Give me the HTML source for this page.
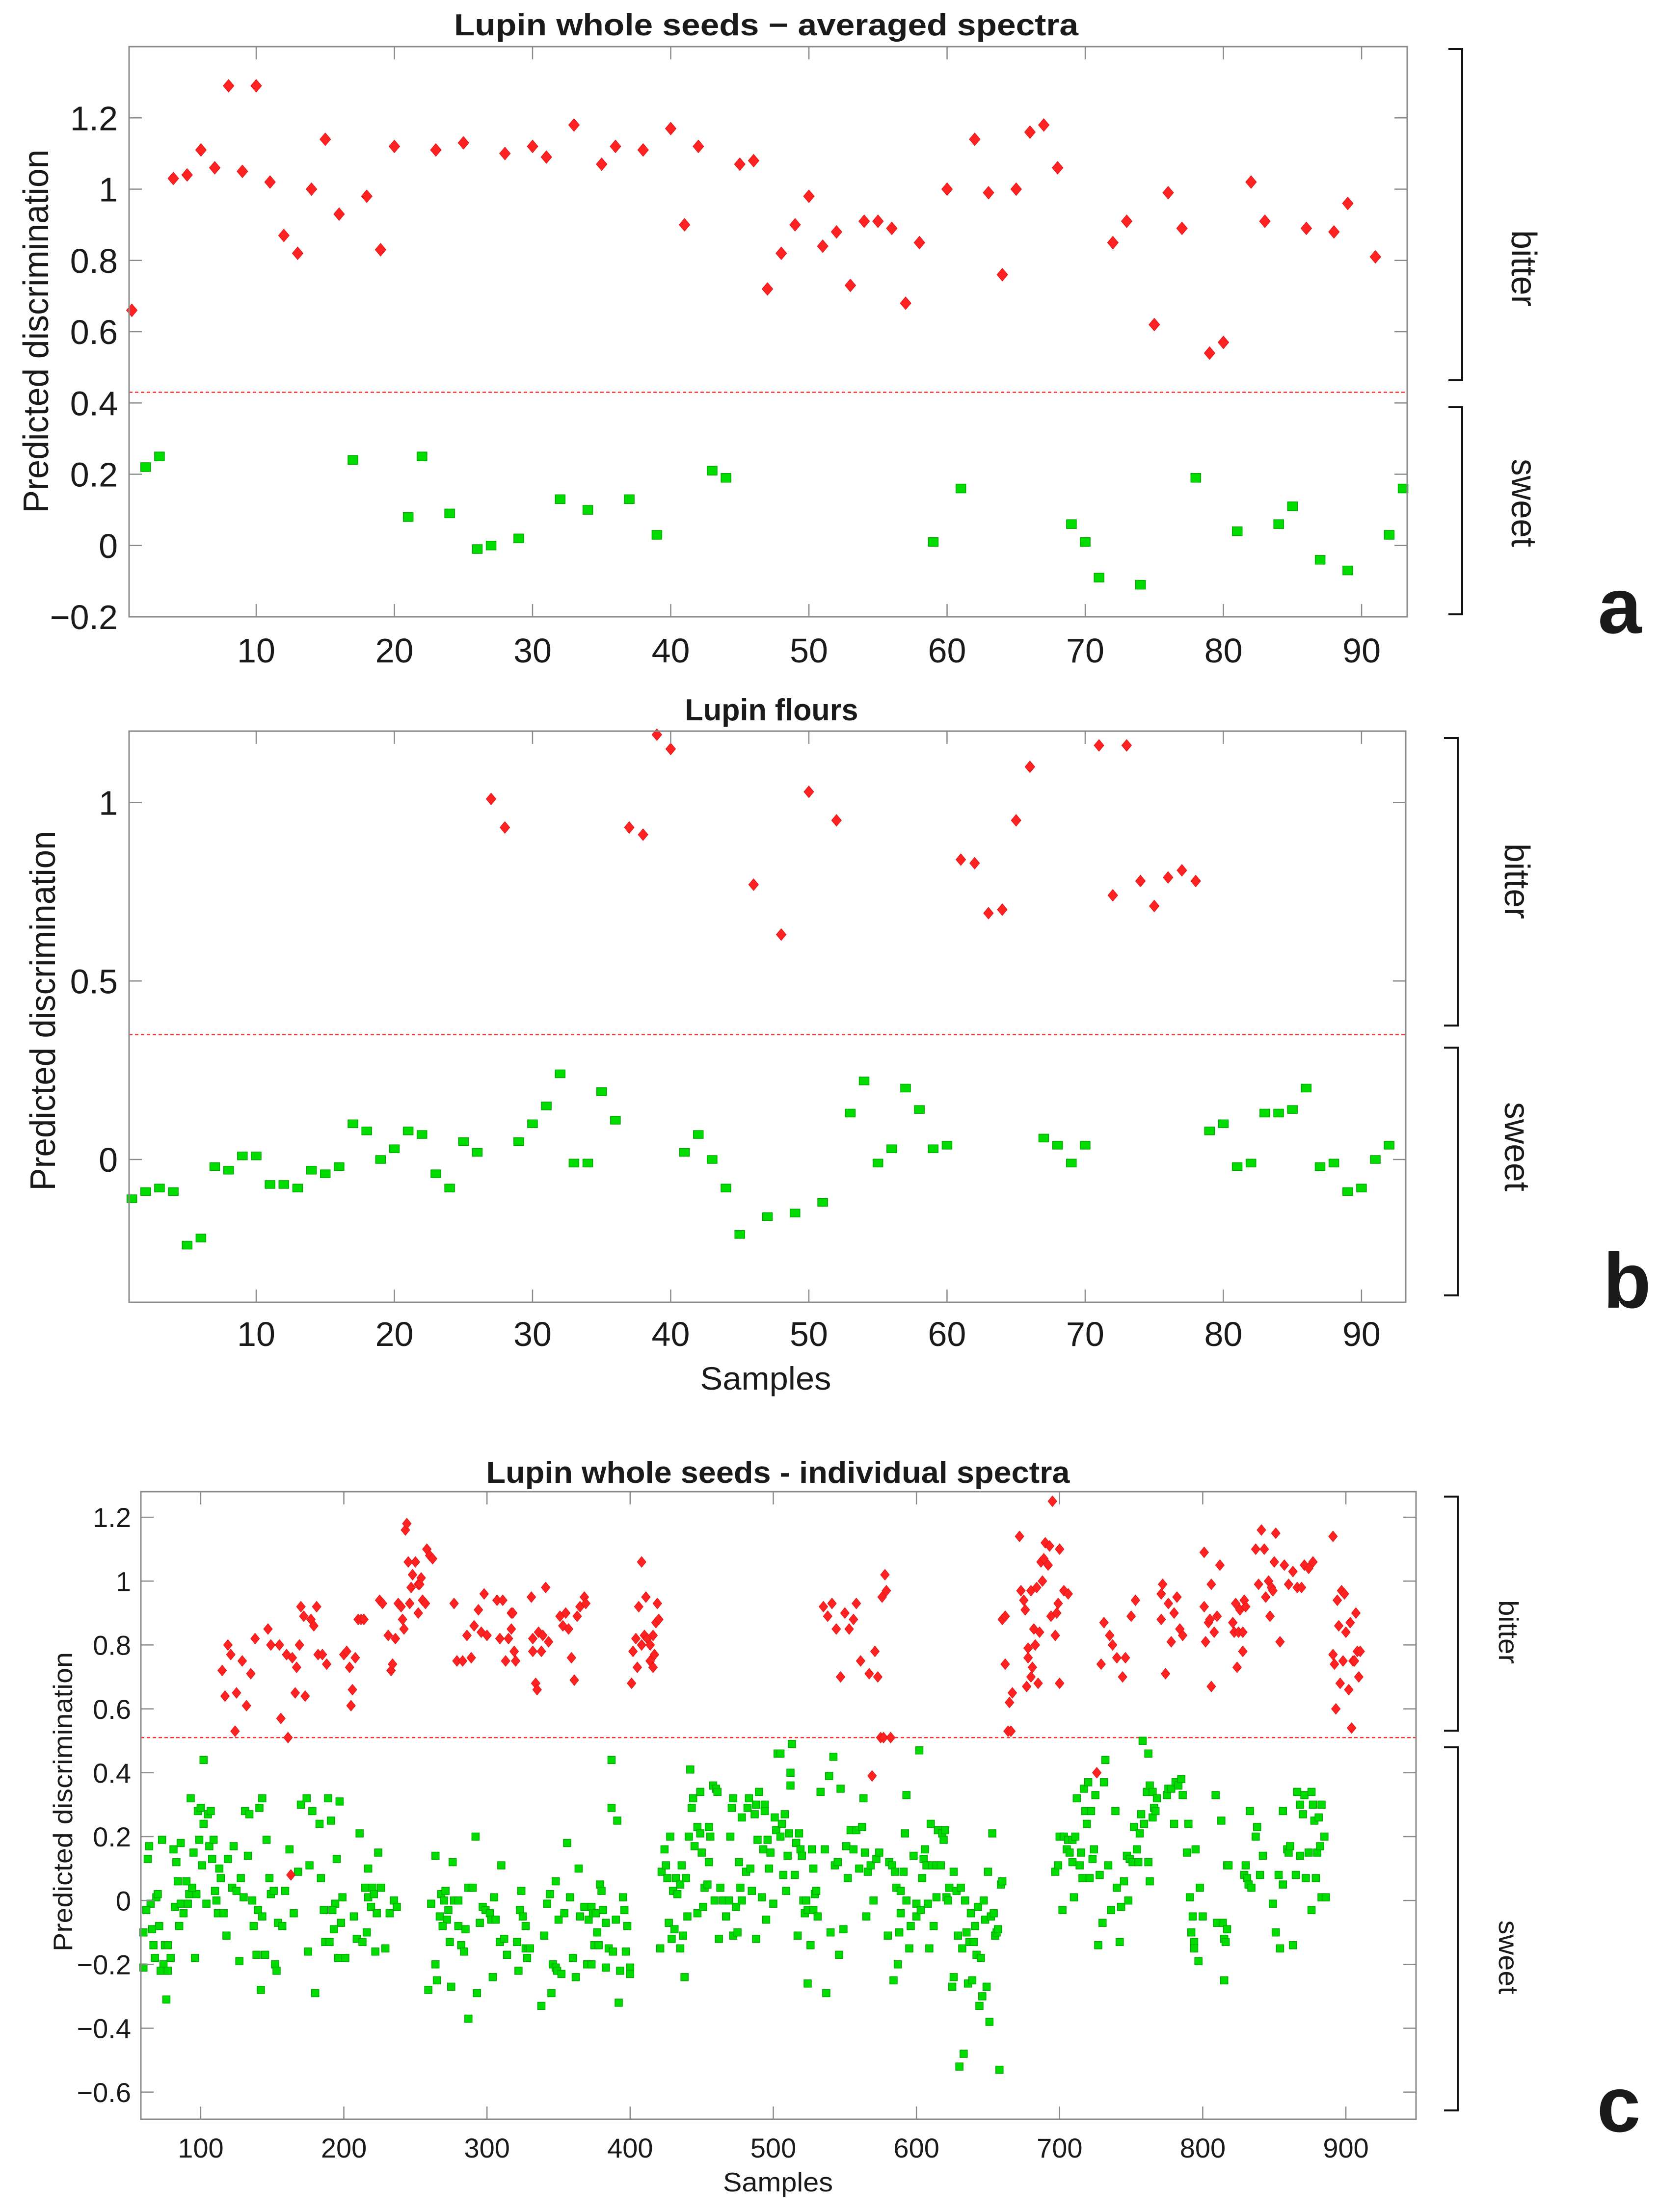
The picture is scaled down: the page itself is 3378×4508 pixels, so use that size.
<!DOCTYPE html>
<html><head><meta charset="utf-8"><title>Lupin discrimination</title>
<style>
html,body{margin:0;padding:0;background:#fff;}
svg{display:block;}
text{font-family:"Liberation Sans",Arial,sans-serif;fill:#1a1a1a;}
</style></head>
<body>
<svg id="fig" width="3378" height="4508" viewBox="0 0 3378 4508" xmlns="http://www.w3.org/2000/svg">
<rect x="0" y="0" width="3378" height="4508" fill="#fff"/>
</svg>
<script>
// ---------- Panel a data ----------
const aRedX=[1,4,5,6,7,8,9,10,11,12,13,14,15,16,18,19,20,23,25,28,30,31,33,35,36,38,40,41,42,45,46,47,48,49,50,51,52,53,54,55,56,57,58,60,62,63,64,65,66,67,68,72,73,75,76,77,79,80,82,83,86,88,89,91];
const aRedY=[0.66,1.03,1.04,1.11,1.06,1.29,1.05,1.29,1.02,0.87,0.82,1.0,1.14,0.93,0.98,0.83,1.12,1.11,1.13,1.10,1.12,1.09,1.18,1.07,1.12,1.11,1.17,0.90,1.12,1.07,1.08,0.72,0.82,0.90,0.98,0.84,0.88,0.73,0.91,0.91,0.89,0.68,0.85,1.0,1.14,0.99,0.76,1.0,1.16,1.18,1.06,0.85,0.91,0.62,0.99,0.89,0.54,0.57,1.02,0.91,0.89,0.88,0.96,0.81];
const aGreenX=[2,3,17,21,22,24,26,27,29,32,34,37,39,43,44,59,61,69,70,71,74,78,81,84,85,87,89,92,93];
const aGreenY=[0.22,0.25,0.24,0.08,0.25,0.09,-0.01,0.0,0.02,0.13,0.10,0.13,0.03,0.21,0.19,0.01,0.16,0.06,0.01,-0.09,-0.11,0.19,0.04,0.06,0.11,-0.04,-0.07,0.03,0.16];
const aYTicks=[-0.2,0,0.2,0.4,0.6,0.8,1,1.2];
const aYTickLabels=["\u22120.2","0","0.2","0.4","0.6","0.8","1","1.2"];
const abXTicks=[10,20,30,40,50,60,70,80,90];
const aThreshold=[0.43];

// ---------- Panel b data ----------
const bRedX=[27,28,37,38,39,40,46,48,50,52,61,62,63,64,65,66,71,72,73,74,75,76,77,78];
const bRedY=[1.01,0.93,0.93,0.91,1.19,1.15,0.77,0.63,1.03,0.95,0.84,0.83,0.69,0.70,0.95,1.10,1.16,0.74,1.16,0.78,0.71,0.79,0.81,0.78];
const bGreenX=[1,2,3,4,5,6,7,8,9,10,11,12,13,14,15,16,17,18,19,20,21,22,23,24,25,26,29,30,31,32,33,34,35,36,41,42,43,44,45,47,49,51,53,54,55,56,57,58,59,60,67,68,69,70,79,80,81,82,83,84,85,86,87,88,89,90,91,92];
const bGreenY=[-0.11,-0.09,-0.08,-0.09,-0.24,-0.22,-0.02,-0.03,0.01,0.01,-0.07,-0.07,-0.08,-0.03,-0.04,-0.02,0.10,0.08,0.0,0.03,0.08,0.07,-0.04,-0.08,0.05,0.02,0.05,0.10,0.15,0.24,-0.01,-0.01,0.19,0.11,0.02,0.07,0.0,-0.08,-0.21,-0.16,-0.15,-0.12,0.13,0.22,-0.01,0.03,0.20,0.14,0.03,0.04,0.06,0.04,-0.01,0.04,0.08,0.10,-0.02,-0.01,0.13,0.13,0.14,0.20,-0.02,-0.01,-0.09,-0.08,0.0,0.04];
const bYTicks=[0,0.5,1];
const bYTickLabels=["0","0.5","1"];
const bThreshold=[0.35];

// ---------- Panel c data (sample, predicted value) ----------
const cRedPts=[[115,.72],[117,.64],[119,.80],[121,.77],[124,.53],[125,.65],[129,.75],[132,.61],[135,.71],[138,.82],[147,.85],[149,.80],[155,.80],[156,.57],[160,.77],[161,.51],[164,.76],[166,.65],[167,.73],[169,.80],[170,.92],[172,.89],[173,.64],[177,.88],[179,.86],[181,.92],[182,.77],[185,.77],[188,.74],[163,.08],[200,.77],[202,.78],[204,.73],[205,.61],[206,.66],[208,.76],[210,.88],[212,.88],[214,.88],[225,.94],[227,.93],[231,.83],[233,.72],[234,.74],[236,.82],[238,.93],[240,.92],[241,.88],[242,.85],[243,1.16],[244,1.18],[245,1.06],[246,.93],[247,.98],[248,1.02],[250,1.06],[252,.99],[252,.90],[253,.99],[254,1.01],[255,.94],[257,.93],[258,1.10],[260,1.08],[262,1.07],[277,.93],[279,.75],[283,.75],[286,.83],[289,.76],[291,.86],[294,.91],[296,.84],[298,.96],[300,.83],[307,.94],[309,.82],[311,.94],[313,.75],[315,.82],[317,.90],[317,.85],[318,.90],[319,.78],[320,.75],[331,.95],[332,.82],[332,.78],[334,.68],[335,.66],[336,.84],[338,.78],[339,.83],[341,.98],[343,.81],[351,.89],[353,.86],[355,.90],[357,.85],[359,.76],[361,.69],[363,.89],[365,.92],[368,.95],[369,.93],[401,.68],[402,.78],[404,.82],[405,.73],[406,.92],[408,.80],[408,1.06],[410,.83],[411,.95],[412,.82],[414,.80],[414,.75],[416,.73],[417,.77],[418,.87],[419,.93],[420,.88],[416,.83],
[535,.92],[538,.89],[541,.93],[544,.85],[547,.70],[550,.90],[553,.85],[556,.88],[558,.93],[561,.75],[567,.71],[571,.78],[573,.70],[576,.95],[578,1.02],[579,.97],[575,.51],[577,.51],[582,.51],[569,.39],[660,.88],[662,.89],[662,.74],[665,.62],[667,.65],[664,.53],[666,.53],[672,1.14],[673,.97],[675,.94],[676,.91],[678,.79],[678,.76],[680,.70],[677,.67],[681,.73],[680,.97],[682,.85],[683,.80],[684,.98],[686,.84],[685,.68],[688,1.0],[687,1.06],[689,1.07],[690,1.12],[692,1.05],[693,1.11],[694,.89],[695,1.25],[697,.83],[698,.90],[699,.93],[700,.68],[700,1.10],[703,.97],[706,.96],[726,.40],[729,.74],[731,.87],[735,.83],[737,.80],[740,.76],[744,.70],[746,.76],[750,.89],[753,.94],[771,.88],[772,.99],[771,.96],[774,.71],[776,.93],[778,.81],[780,.90],[782,.95],[784,.85],[786,.83],[801,1.09],[801,.92],[802,.81],[804,.87],[805,.88],[806,.67],[806,.99],[808,.84],[810,.89],[812,1.05],[821,.87],[822,.84],[823,.93],[824,.73],[825,.84],[826,.91],[828,.78],[828,.84],[829,.94],[830,.92],[837,1.10],[839,.99],[841,1.16],[843,1.10],[844,.95],[846,1.0],[847,.89],[848,.98],[849,.97],[850,1.06],[851,1.15],[854,.81],[857,1.05],[860,.99],[863,1.03],[866,.98],[869,.98],[871,1.05],[874,1.04],[877,1.06],[891,1.14],[891,.77],[892,.74],[893,.60],[894,.94],[895,.86],[896,.68],[897,.97],[898,.75],[899,.96],[900,.84],[902,.66],[903,.87],[904,.54],[905,.75],[906,.75],[907,.90],[908,.78],[909,.70],[910,.78]];
const cGreenPts=[[102,.44],[93,.32],[98,.28],[100,.29],[105,.27],[107,.28],[102,.24],[99,.19],[95,.15],[101,.11],[106,.17],[109,.19],[108,.13],[113,.10],[114,.07],[110,.03],[111,0],[104,-.01],[112,-.04],[116,-.04],[118,-.11],[96,-.18],[85,-.08],[82,-.02],[86,-.01],[88,-.04],[91,-.01],[92,.02],[97,.02],[94,.04],[90,.06],[84,.06],[83,.12],[81,.16],[86,.18],[73,.19],[64,.17],[63,.13],[65,-.01],[62,-.03],[69,.01],[70,.02],[71,-.08],[66,-.09],[60,-.10],[67,-.14],[75,-.14],[77,-.14],[79,-.18],[68,-.18],[74,-.20],[60,-.21],[72,-.22],[77,-.22],[76,-.31],
[119,.13],[123,.17],[122,.04],[125,.03],[128,.07],[130,.01],[133,.14],[131,.28],[134,.27],[141,.29],[143,.32],[146,.19],[136,0],[140,-.03],[143,-.05],[137,-.08],[127,-.19],[139,-.17],[145,-.17],[142,-.28],[148,.07],[149,.02],[151,.03],[154,-.07],[157,-.08],[159,.03],[162,.16],[165,-.04],[152,-.20],[153,-.22],[168,.09],[170,.30],[174,.32],[178,.28],[183,.24],[176,.11],[184,.07],[175,-.16],[180,-.29],[189,.32],[191,.25],[197,.31],[195,.13],[194,-.01],[186,-.03],[192,-.03],[199,.01],[198,-.07],[193,-.09],[187,-.13],[190,-.13],[196,-.18],[201,-.18],[207,-.05],[209,-.12],[213,-.13],[216,-.10],[211,.21],[217,.10],[215,.04],[220,.04],[226,.04],[217,.01],[221,.02],[219,-.02],[223,-.04],[224,.15],[232,-.04],[235,0],[237,-.02],[229,-.15],[222,-.16],
[259,-.28],[264,-.20],[265,-.25],[264,.14],[261,-.01],[268,.02],[271,.03],[270,0],[277,0],[280,0],[273,-.03],[267,-.05],[272,-.06],[269,-.08],[280,-.08],[285,-.09],[274,-.13],[282,-.14],[284,-.16],[275,-.27],[276,.12],[287,.04],[290,.04],[292,.20],[293,-.29],[287,-.37],[297,-.02],[299,-.03],[302,-.04],[303,-.06],[295,-.07],[306,-.06],[305,.01],[310,.11],[309,-.13],[312,-.12],[314,-.17],[304,-.24],[321,-.13],[322,-.22],[323,-.03],[325,-.05],[327,-.08],[324,.03],[327,-.15],[329,-.15],[330,-.15],[328,-.18],[338,-.33],[340,-.11],[342,-.01],[344,.02],[348,.06],[345,-.29],[346,-.20],[348,-.21],[349,-.22],[352,-.23],[350,-.06],[354,-.04],[356,.18],[358,.01],[360,-.18],[362,-.24],[364,.10],[365,-.05],[368,-.02],[371,-.06],[373,-.02],[374,-.04],[376,-.04],[377,-.10],[379,.05],[380,.03],[381,-.03],[383,-.07],[375,-.14],[378,-.14],[385,-.15],[388,-.16],[390,-.06],[383,-.21],[370,-.20],[373,-.20],[387,.29],[387,.44],[391,.25],[392,-.32],[393,-.22],[395,.01],[396,-.03],[398,-.08],[397,-.16],[400,-.21],[400,-.23],
[421,-.15],[422,.09],[424,.16],[425,.11],[426,.07],[427,-.07],[428,.20],[429,-.12],[430,.03],[431,-.09],[432,.07],[433,.02],[435,.05],[435,-.15],[436,.11],[437,-.11],[438,-.24],[439,.07],[440,-.05],[441,.20],[442,.41],[443,.29],[444,.32],[445,.17],[447,.23],[447,-.04],[449,.34],[449,.21],[450,.15],[451,-.02],[452,.04],[454,.05],[455,.23],[455,.12],[456,.20],[458,.36],[459,0],[460,.35],[461,.34],[462,-.12],[463,.04],[465,0],[467,-.05],[469,0],[470,.20],[471,.29],[472,.32],[472,-.11],[474,-.02],[475,-.10],[476,.12],[477,.04],[478,.26],[478,0],[481,.09],[482,.29],[483,.32],[484,.10],[485,.03],[487,.27],[488,.30],[488,-.12],[490,.34],[489,.19],[492,.01],[493,.16],[494,.30],[494,.28],[495,-.06],[496,.19],[497,.10],[498,.15],[500,-.01],[501,.26],[502,.22],[503,.46],
[505,.46],[513,.49],[512,.40],[512,.36],[508,.27],[506,.24],[505,.20],[511,.21],[516,.18],[518,.21],[519,.16],[510,.14],[520,.14],[507,.08],[515,.08],[509,.03],[521,0],[523,0],[522,-.04],[524,-.03],[528,-.03],[529,.02],[530,.03],[531,-.05],[517,-.11],[526,-.14],[524,-.26],[528,.10],[527,.16],[533,.34],[539,.39],[542,.45],[547,.35],[536,.16],[543,.11],[545,.12],[540,-.10],[537,-.29],[546,-.17],[549,-.09],[552,.07],[551,.17],[554,.22],[556,.16],[558,.22],[560,.10],[562,.23],[564,.15],[563,.32],[566,.09],[568,.11],[570,0],[572,.13],[574,.15],[565,-.05],
[581,.12],[583,.11],[585,.09],[586,.04],[589,.03],[591,.09],[592,.21],[593,0],[593,.33],[589,-.04],[588,-.10],[580,-.11],[587,-.20],[584,-.25],[595,-.15],[596,-.08],[598,.14],[600,-.01],[600,-.05],[603,-.03],[604,.07],[605,.13],[606,.16],[607,.11],[608,-.01],[610,.24],[611,.11],[612,-.08],[609,-.15],[614,.01],[614,.11],[615,.22],[617,.11],[618,.21],[619,.19],[620,.22],[621,.01],[622,0],[623,.04],[625,-.27],[626,-.24],[626,.09],[628,.03],[629,-.11],[631,.04],[632,-.15],[633,-.48],[630,-.52],[634,0],[635,-.10],[636,-.26],[637,-.13],[638,-.04],[639,-.25],[640,-.13],[641,-.08],[642,-.17],[643,-.02],[644,-.33],[645,-.18],[646,-.30],[647,0],[648,-.06],[649,-.27],[650,.09],[651,-.38],[652,-.05],[653,.21],[654,-.04],[655,-.11],[656,-.10],[657,-.09],[658,-.53],[659,.05],[660,.06],[602,.47],
[697,.09],[699,.11],[700,.20],[702,-.03],[703,.20],[705,.16],[706,.19],[707,.15],[709,.19],[709,.12],[710,.01],[711,.20],[712,.32],[714,.11],[715,.15],[716,.07],[717,.35],[718,.28],[719,.24],[720,.37],[721,.07],[722,.28],[724,.16],[725,.33],[723,.13],[727,-.14],[728,.08],[730,-.07],[731,.37],[732,.44],[734,.11],[736,-.03],[739,.28],[740,.04],[742,-.13],[743,-.02],[745,.06],[748,0],[747,.14],[749,.13],[751,.12],[752,.23],[754,.16],[755,.12],[756,.21],[757,.27],[758,.50],[759,.24],[761,.34],[762,.46],[762,.12],[763,.06],[763,.36],[765,.34],[765,.26],[766,.29],[767,.28],[768,.32],[775,.33],[776,.35],[778,.35],[780,.24],[781,.37],[783,.36],[785,.38],[786,.33],[789,.15],[790,.24],[791,.01],[792,-.10],[793,-.05],[794,-.13],[794,-.15],[795,.16],[797,-.19],[798,.04],[800,-.05],
[809,.33],[810,-.07],[813,.25],[814,-.07],[815,-.25],[815,-.12],[816,-.13],[817,-.09],[817,.11],[818,.11],[829,.08],[830,.11],[831,.07],[832,.05],[834,.04],[833,.28],[837,.20],[838,.23],[840,.08],[842,.14],[849,-.01],[851,-.10],[853,.08],[854,-.15],[856,.05],[856,.28],[859,.16],[860,.15],[861,.17],[863,-.14],[865,.08],[866,.34],[868,.30],[868,.14],[870,.27],[871,.33],[872,.07],[874,.15],[876,-.03],[876,.34],[877,.30],[878,.25],[879,.07],[880,.15],[881,.26],[882,.17],[883,.30],[883,.01],[885,.20],[886,.01]];
const cYTicks=[-0.6,-0.4,-0.2,0,0.2,0.4,0.6,0.8,1,1.2];
const cYTickLabels=["\u22120.6","\u22120.4","\u22120.2","0","0.2","0.4","0.6","0.8","1","1.2"];
const cXTicks=[100,200,300,400,500,600,700,800,900];
const cThreshold=[0.51];

const SVGNS="http://www.w3.org/2000/svg";
const fig=document.getElementById('fig');
function mk(tag,attrs,parent){const e=document.createElementNS(SVGNS,tag);for(const k in attrs)e.setAttribute(k,attrs[k]);(parent||fig).appendChild(e);return e;}
function lin(d0,d1,r0,r1){return v=>r0+(v-d0)/(d1-d0)*(r1-r0);}

function panel(cfg){
  const g=mk('g',{});
  
  
  const sx=lin(cfg.xd[0],cfg.xd[1],cfg.L,cfg.R);
  const sy=lin(cfg.yd[0],cfg.yd[1],cfg.B,cfg.T);
  const th=mk('line',{x1:cfg.L,x2:cfg.R,y1:sy(cfg.thr[0]),y2:sy(cfg.thr[0]),stroke:'#ff3030','stroke-width':2.5,'stroke-dasharray':'7,5'},g);
  
  
  const gg=mk('g',{},g);
  
  
  cfg.gx.forEach((xv,i)=>{
    const yv=cfg.gy[i];
    const r=mk('rect',{x:sx(xv)-cfg.sq[0]/2,y:sy(yv)-cfg.sq[1]/2,width:cfg.sq[0],height:cfg.sq[1],fill:'#00dc00',stroke:'#00a800','stroke-width':1.5},gg);
    
    
  });
  const rg=mk('g',{},g);
  
  
  cfg.rx.forEach((xv,i)=>{
    const yv=cfg.ry[i];const cx=sx(xv),cy=sy(yv),w=cfg.dm[0],h=cfg.dm[1];
    const p=mk('path',{d:`M${cx},${cy-h}L${cx+w},${cy}L${cx},${cy+h}L${cx-w},${cy}Z`,fill:'#ff2222',stroke:'#e01010','stroke-width':1},rg);
    
    
  });
  const box=mk('rect',{x:cfg.L,y:cfg.T,width:cfg.R-cfg.L,height:cfg.B-cfg.T,fill:'none',stroke:'#8a8a8a','stroke-width':3},g);
  
  
  const tl=cfg.tick;
  cfg.xt.forEach(v=>{
    const x=sx(v);
    mk('line',{x1:x,x2:x,y1:cfg.B,y2:cfg.B-tl,stroke:'#8a8a8a','stroke-width':2.5},g);
    mk('line',{x1:x,x2:x,y1:cfg.T,y2:cfg.T+tl,stroke:'#8a8a8a','stroke-width':2.5},g);
    const t=mk('text',{x:x,y:cfg.xlabY,'font-size':cfg.tf,'text-anchor':'middle'},g);
    t.textContent=String(v);
    
    
  });
  cfg.yt.forEach((v,i)=>{
    const y=sy(v);
    mk('line',{x1:cfg.L,x2:cfg.L+tl,y1:y,y2:y,stroke:'#8a8a8a','stroke-width':2.5},g);
    mk('line',{x1:cfg.R,x2:cfg.R-tl,y1:y,y2:y,stroke:'#8a8a8a','stroke-width':2.5},g);
    const t=mk('text',{x:cfg.ylabX,y:y+cfg.tf*0.36,'font-size':cfg.tf,'text-anchor':'end'},g);
    t.textContent=cfg.ytl[i];
    
    
  });
}

panel({name:'panel-a',L:263,R:2867,T:95,B:1257,xd:[0.8,93.3],yd:[-0.2,1.4],rx:aRedX,ry:aRedY,gx:aGreenX,gy:aGreenY,
  xt:abXTicks,yt:aYTicks,ytl:aYTickLabels,thr:aThreshold,tick:26,tf:70,xlabY:1350,ylabX:240,sq:[20,18],dm:[11,13]});
panel({name:'panel-b',L:263,R:2864,T:1490,B:2654,xd:[0.8,93.2],yd:[-0.4,1.2],rx:bRedX,ry:bRedY,gx:bGreenX,gy:bGreenY,
  xt:abXTicks,yt:bYTicks,ytl:bYTickLabels,thr:bThreshold,tick:26,tf:70,xlabY:2743,ylabX:240,sq:[20,16],dm:[10,12]});
panel({name:'panel-c',L:287,R:2885,T:3040,B:4319,xd:[58.2,949],yd:[-0.685,1.28],rx:cRedPts.map(p=>p[0]),ry:cRedPts.map(p=>p[1]),gx:cGreenPts.map(p=>p[0]),gy:cGreenPts.map(p=>p[1]),
  xt:cXTicks,yt:cYTicks,ytl:cYTickLabels,thr:cThreshold,tick:26,tf:56,xlabY:4397,ylabX:267,sq:[15,15],dm:[9,11]});

function txt(s,attrs,name){const t=mk('text',attrs);t.textContent=s;return t;}
txt('Lupin whole seeds \u2212 averaged spectra',{x:1561,y:72,'font-size':62,'font-weight':'bold','text-anchor':'middle',textLength:1272,lengthAdjust:'spacingAndGlyphs'},'title-a');
txt('Lupin flours',{x:1572,y:1468,'font-size':62,'font-weight':'bold','text-anchor':'middle',textLength:353,lengthAdjust:'spacingAndGlyphs'},'title-b');
txt('Lupin whole seeds  - individual spectra',{x:1585,y:3022,'font-size':62,'font-weight':'bold','text-anchor':'middle',textLength:1189,lengthAdjust:'spacingAndGlyphs'},'title-c');
txt('Predicted discrimination',{x:0,y:0,'font-size':72,'text-anchor':'middle',transform:'translate(98,675) rotate(-90)',textLength:741,lengthAdjust:'spacingAndGlyphs'},'y-axis-title-a');
txt('Predicted discrimination',{x:0,y:0,'font-size':72,'text-anchor':'middle',transform:'translate(112,2060) rotate(-90)',textLength:733,lengthAdjust:'spacingAndGlyphs'},'y-axis-title-b');
txt('Predicted discrimination',{x:0,y:0,'font-size':55,'text-anchor':'middle',transform:'translate(147,3672) rotate(-90)',textLength:610,lengthAdjust:'spacingAndGlyphs'},'y-axis-title-c');
txt('Samples',{x:1560,y:2832,'font-size':66,'text-anchor':'middle',textLength:267,lengthAdjust:'spacingAndGlyphs'},'x-axis-title-b');
txt('Samples',{x:1585,y:4466,'font-size':55,'text-anchor':'middle',textLength:224,lengthAdjust:'spacingAndGlyphs'},'x-axis-title-c');
function cls(s,x,y,fs,len,name){txt(s,{x:0,y:0,'font-size':fs,'text-anchor':'middle',transform:`translate(${x},${y}) rotate(90)`,textLength:len,lengthAdjust:'spacingAndGlyphs'},name);}
cls('bitter',3080,547,72,156,'class-label-bitter-a');
cls('sweet',3080,1025,72,180,'class-label-sweet-a');
cls('bitter',3066,1796,72,154,'class-label-bitter-b');
cls('sweet',3066,2337,72,182,'class-label-sweet-b');
cls('bitter',3054,3326,56,130,'class-label-bitter-c');
cls('sweet',3054,3989,56,151,'class-label-sweet-c');
function br(x,y1,y2,name){const p=mk('path',{d:`M${x-28},${y1}H${x}V${y2}H${x-28}`,fill:'none',stroke:'#111','stroke-width':4});}
br(2979,100,775,'bracket-bitter-a');br(2979,830,1252,'bracket-sweet-a');
br(2970,1504,2090,'bracket-bitter-b');br(2970,2135,2640,'bracket-sweet-b');
br(2970,3050,3527,'bracket-bitter-c');br(2970,3561,4301,'bracket-sweet-c');
txt('a',{x:3300,y:1290,'font-size':160,'font-weight':'bold','text-anchor':'middle'},'panel-letter-a');
txt('b',{x:3315,y:2665,'font-size':160,'font-weight':'bold','text-anchor':'middle'},'panel-letter-b');
txt('c',{x:3298,y:4344,'font-size':160,'font-weight':'bold','text-anchor':'middle'},'panel-letter-c');
</script>
</body></html>
